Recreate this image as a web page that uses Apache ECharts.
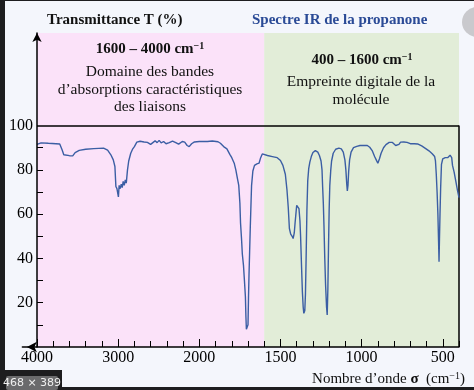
<!DOCTYPE html>
<html><head><meta charset="utf-8">
<script src="https://cdn.jsdelivr.net/npm/echarts@6/dist/echarts.min.js"></script>
<style>html,body{margin:0;padding:0;background:#f4f6fc;}#c{width:474px;height:390px;}</style>
</head><body><div id="c"></div>
<script>
// ---- Data ----
const wavenumbers = [4000,3950,3860,3720,3690,3670,3600,3560,3530,3480,3400,3300,3180,3130,3090,3060,3040,3028,3015,3005,2997,2988,2975,2962,2950,2938,2925,2912,2900,2885,2870,2845,2820,2800,2770,2730,2680,2640,2600,2580,2545,2520,2495,2470,2440,2410,2370,2330,2290,2255,2210,2180,2150,2125,2095,2060,2000,1950,1920,1885,1870,1850,1830,1812,1800,1785,1775,1765,1757,1750,1746,1740,1735,1728,1722,1716,1713,1710,1705,1700,1697,1694,1690,1686,1681,1678,1670,1660,1645,1632,1622,1612,1600,1580,1550,1520,1500,1485,1470,1460,1452,1445,1437,1428,1422,1415,1410,1405,1400,1393,1386,1380,1376,1370,1365,1360,1356,1350,1346,1342,1337,1332,1326,1319,1310,1300,1285,1270,1260,1250,1244,1240,1236,1232,1227,1222,1216,1212,1208,1204,1200,1196,1190,1185,1175,1160,1150,1140,1125,1113,1103,1097,1092,1088,1084,1080,1074,1065,1050,1030,1010,980,965,950,935,920,910,900,890,880,865,850,830,810,800,790,780,770,760,740,720,700,690,675,655,630,605,585,565,550,545,540,535,530,526,523,520,517,513,508,500,485,470,462,455,450,445,440,430,420,410,400];
const transmittance = [91.5,92.2,92,91.7,89,86.8,86.4,86.3,87.8,88.8,89.3,89.6,89.8,88.9,86.8,84.5,81.5,72.5,71.5,71,67.8,73,71.5,73.5,72,74.8,73,75.5,74,80,84,87.5,89.5,90.5,92.5,92.9,92.6,92.4,91.5,91.6,93.1,92.3,93.3,92.2,92.8,91.8,92.3,93,92.3,91.6,92.8,92.5,91,90.5,91.8,92.6,92.8,92.8,93,92.7,92,90.5,89.5,87,85.5,83,80,76,73,65,56,49,42,37,30,22.7,14,8,7.5,10,22,32,43,54,66,73,79.5,82,82.7,83,85.5,87.2,87.5,86.5,86,85.5,84.2,82,78,71,63,53.5,51,50,49,51.5,56,60,64,64.5,62.5,57,50,36,25,18,15.2,16.5,24,40,62,75,80.5,83.5,86,87.8,88.7,88,86.5,84,80,72,65,55,40,28,18,14.5,26,45,62,73,80,84,87.5,89.3,89.5,89.8,89.5,88,84.5,80,74,70.5,73,79,84.5,88,90,90.6,91,91,91,90.2,88.7,86,84.5,83,85,87.5,90,91.4,92.4,92.4,91.8,91,90.4,91.5,92.5,92.6,92.4,91.8,91.3,91.8,91.7,90.8,89.6,88.6,87.3,86,84,78,70,60,48,38.5,50,60,72,82.5,85,85.5,85.5,86.3,86.6,86.2,85.5,82,79,75,71,67.5];
const xLabelWavenumbers = [4000,3000,2000,1500,1000,500];
const yLabelValues = [20,40,60,80,100];
const yTickValues = [10,20,30,40,50,60,70,80,90];
const zoneBreak = 1600;     // cm-1, boundary between the two domains
const axisLow = 400;        // right end of the spectrum
const axisHigh = 4000;

// IR spectra use a split wavenumber scale: 1000 cm-1 per unit above 2000, 500 cm-1 per unit below.
function toAxis(s){ return s >= 2000 ? (4000 - s) / 1000 : 2 + (2000 - s) / 500; }
function fromAxis(u){ return u <= 2 ? 4000 - 1000 * u : 2000 - 500 * (u - 2); }

const uMax = toAxis(axisLow);
const uMin = -0.18;             // x axis line runs a little past 4000 to carry its arrow
const gridLeft = 22.4, gridRight = 15;
const pxPerUnit = (474 - gridLeft - gridRight) / (uMax - uMin);
const majorTicks = xLabelWavenumbers.map(toAxis);
const minorTicks = [];
for (let s = axisHigh; s > 2000; s -= 200) minorTicks.push(toAxis(s));
for (let s = 2000; s >= axisLow; s -= 100) minorTicks.push(toAxis(s));

const serif = '"Liberation Serif","Times New Roman",serif';
const chart = echarts.init(document.getElementById('c'), null, {renderer:'canvas'});
const sup = {verticalAlign: 'top', padding:[0,0,6,0]};

function txt(x, y, text, font, extra, z){
  return {type:'text', z: z || 100, style: Object.assign({x, y, text, fill:'#111', font,
    textAlign:'center', textVerticalAlign:'middle'}, extra || {})};
}

chart.setOption({
  animation: false,
  backgroundColor: '#f4f6fc',
  grid: {left: gridLeft, right: gridRight, top: 33, bottom: 43, containLabel: false, outerBoundsMode: 'none'},
  xAxis: [{
    type: 'value', min: uMin, max: uMax,
    axisLine: {show: true, onZero: false, symbol: ['arrow','none'], symbolSize: [8, 10], symbolOffset: [4.5, 0],
      lineStyle: {color: '#000', width: 1.5}},
    axisTick: {show: true, inside: true, length: 6, customValues: minorTicks, lineStyle: {color:'#000', width: 1}},
    axisLabel: {show: true, customValues: majorTicks, formatter: v => String(Math.round(fromAxis(v))),
      color: '#000', fontFamily: serif, fontSize: 16, margin: 3},
    splitLine: {show: false}, z: 10
  },{
    type: 'value', min: uMin, max: uMax, position: 'bottom',
    axisLine: {show: false, onZero: false},
    axisTick: {show: true, inside: true, length: 8, customValues: majorTicks, lineStyle: {color:'#000', width: 1}},
    axisLabel: {show: false}, splitLine: {show: false}, z: 10
  }],
  yAxis: {
    type: 'value', min: 0, max: 141.8, position: 'left',
    offset: -(0 - uMin) * pxPerUnit,
    axisLine: {show: true, onZero: false, symbol: ['none','arrow'], symbolSize: [7, 9],
      lineStyle: {color: '#000', width: 1.5}},
    axisTick: {show: true, inside: true, length: 6, customValues: yTickValues, lineStyle: {color:'#000', width: 1}},
    axisLabel: {show: true, customValues: yLabelValues, color: '#000', fontFamily: serif, fontSize: 16, margin: 4},
    splitLine: {show: false}, z: 10
  },
  series: [{
    type: 'line', xAxisIndex: 0, showSymbol: false, smooth: false,
    data: wavenumbers.map((s, i) => [toAxis(s), transmittance[i]]),
    lineStyle: {color: '#3b5ea4', width: 1.4},
    z: 5,
    markArea: {silent: true, data: [
      [{xAxis: toAxis(axisHigh), itemStyle: {color: '#fbe2f9'}}, {xAxis: toAxis(zoneBreak)}],
      [{xAxis: toAxis(zoneBreak), itemStyle: {color: '#e2edd8'}}, {xAxis: uMax}]
    ]},
    markLine: {silent: true, symbol: ['none','none'], label: {show: false},
      lineStyle: {color: '#000', width: 1.5, type: 'solid'},
      data: [
        [{coord: [toAxis(axisHigh), 100]}, {coord: [uMax, 100]}],
        [{coord: [uMax, 0]}, {coord: [uMax, 100]}]
      ]}
  }],
  graphic: [
    {type:'rect', z:100, shape:{x:0,y:0,width:5,height:390}, style:{fill:'#1d1d1f'}},
    {type:'rect', z:100, shape:{x:0,y:0,width:474,height:1}, style:{fill:'#1d1d1f'}},
    {type:'rect', z:100, shape:{x:0,y:387,width:474,height:3}, style:{fill:'#1d1d1f'}},
    {type:'rect', z:100, shape:{x:0,y:370,width:62,height:20}, style:{fill:'#1d1d1f'}},
    {type:'rect', z:101, shape:{x:6,y:376,width:52,height:14, r:2}, style:{fill:'#6a6a6c'}},
    txt(32, 383.5, '468 × 389', '11px "DejaVu Sans",sans-serif', {fill:'#f0f0f0'}, 102),
    {type:'circle', z:100, shape:{cx:477, cy:22, r:15}, style:{fill:'#c9c9cd'}},
    txt(47, 20, 'Transmittance T (%)', 'bold 15px '+serif, {textAlign:'left'}),
    txt(252, 20, 'Spectre IR de la propanone', 'bold 15px '+serif, {textAlign:'left', fill:'#2a4a96'}),
    txt(150, 49, '{b|1600 – 4000 cm}{s|−1}', 'bold 15px '+serif,
      {rich:{b:{font:'bold 15px '+serif, fill:'#111'}, s:Object.assign({font:'bold 10px '+serif, fill:'#111'}, sup)}}),
    txt(150, 72, 'Domaine des bandes', '15.5px '+serif),
    txt(150, 89.5, 'd’absorptions caractéristiques', '15.5px '+serif),
    txt(150, 107, 'des liaisons', '15.5px '+serif),
    txt(362, 60, '{b|400 – 1600 cm}{s|−1}', 'bold 15px '+serif,
      {rich:{b:{font:'bold 15px '+serif, fill:'#111'}, s:Object.assign({font:'bold 10px '+serif, fill:'#111'}, sup)}}),
    txt(361, 82, 'Empreinte digitale de la', '15.5px '+serif),
    txt(361, 100, 'molécule', '15.5px '+serif),
    txt(465, 379, '{n|Nombre d’onde }{g|σ}{n|  (cm}{s|−1}{n|)}', '15px '+serif,
      {textAlign:'right', rich:{n:{font:'15px '+serif, fill:'#111'}, g:{font:'bold 15px '+serif, fill:'#111'}, s:Object.assign({font:'10px '+serif, fill:'#111'}, sup)}})
  ]
});
</script></body></html>
